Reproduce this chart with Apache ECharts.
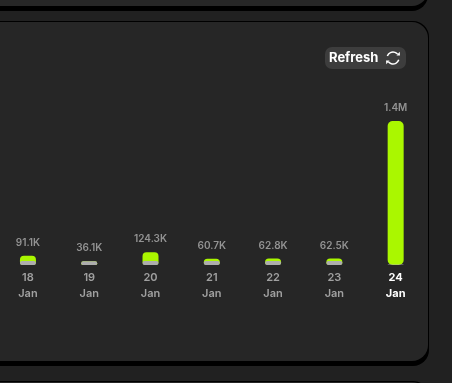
<!DOCTYPE html>
<html><head><meta charset="utf-8">
<style>html,body{margin:0;padding:0;background:#212121}#c{width:452px;height:383px}</style>
<script src="https://cdn.jsdelivr.net/npm/echarts@6/dist/echarts.min.js"></script>
</head><body><div id="c"></div>
<script>
const days = ['18','19','20','21','22','23','24'];
const month = 'Jan';
const valueLabels = ['91.1K','36.1K','124.3K','60.7K','62.8K','62.5K','1.4M'];
const values = [91100,36100,124300,60700,62800,62500,1400000];
const baseValues = [40000,36100,40000,40000,40000,40000,8000];
const FONT = 'Inter, "DejaVu Sans", sans-serif';
const chart = echarts.init(document.getElementById('c'), null, {renderer:'canvas'});
const last = days.length - 1;
chart.setOption({
  backgroundColor:'#212121',
  animation:false,
  graphic:[
    {type:'rect',z:0,shape:{x:-40,y:-60,width:468,height:71,r:16},style:{fill:'#000'}},
    {type:'rect',z:0,shape:{x:-40,y:-60,width:468,height:66,r:16},style:{fill:'#272727'}},
    {type:'rect',z:0,shape:{x:-40,y:21,width:469,height:345,r:16},style:{fill:'#000'}},
    {type:'rect',z:0,shape:{x:-40,y:22,width:468,height:339,r:16},style:{fill:'#262626'}},
    {type:'rect',z:0,shape:{x:-40,y:381,width:469,height:40,r:16},style:{fill:'#000'}},
    {type:'rect',z:0,shape:{x:-40,y:382,width:468,height:40,r:16},style:{fill:'#262626'}},
    {type:'rect',z:1,shape:{x:325,y:47,width:81,height:22,r:7},style:{fill:'#3d3d3d'}},
    {type:'text',z:2,x:329,y:58,style:{text:'Refresh',fill:'#fff',font:'bold 13px Inter, sans-serif',textVerticalAlign:'middle'}},
    {type:'arc',z:2,shape:{cx:393,cy:58,r:6,startAngle:-2.8,endAngle:-0.7},style:{fill:'none',stroke:'#fff',lineWidth:1.5}},
    {type:'arc',z:2,shape:{cx:393,cy:58,r:6,startAngle:0.3,endAngle:2.45},style:{fill:'none',stroke:'#fff',lineWidth:1.5}},
    {type:'polygon',z:2,shape:{points:[[396.5,55.5],[400,55.5],[399.7,51.8]]},style:{fill:'#fff'}},
    {type:'polygon',z:2,shape:{points:[[386,60.5],[389.5,60.5],[386.3,64.2]]},style:{fill:'#fff'}}
  ],
  grid:{left:-2.7,top:121,width:429,height:144,containLabel:false,outerBoundsMode:'none'},
  xAxis:{type:'category',data:days,axisLine:{show:false},axisTick:{show:false},
    axisLabel:{margin:5,interval:0,fontFamily:FONT,
      formatter:(v,i)=> (i===last? '{a|'+v+'}\n{a|'+month+'}' : '{b|'+v+'}\n{b|'+month+'}'),
      rich:{a:{color:'#fff',fontWeight:700,fontSize:11,lineHeight:16,fontFamily:FONT},
            b:{color:'#a0a0a0',fontWeight:600,fontSize:11,lineHeight:16,fontFamily:FONT}}}},
  yAxis:{type:'value',min:0,max:1400000,show:false,splitLine:{show:false}},
  series:[
    {type:'bar',name:'green',barWidth:16,barGap:'-100%',z:2,
     data:values.map((v,i)=> i===last ? {value:v,itemStyle:{borderRadius:5}} : v),
     itemStyle:{color:'#aaf700',borderRadius:[4,4,3,3]},
     label:{show:true,position:'top',distance:8,fontFamily:FONT,fontWeight:600,fontSize:10,color:'#939393',
       formatter:p=>valueLabels[p.dataIndex]}},
    {type:'bar',name:'base',barWidth:16,z:3,
     data:baseValues.map((v,i)=> i===last ? {value:v,itemStyle:{color:'rgba(173,173,173,0.6)',borderRadius:[0,0,5,5]}} : v),
     itemStyle:{color:'#adadad',borderRadius:2}}
  ]
});
</script></body></html>
